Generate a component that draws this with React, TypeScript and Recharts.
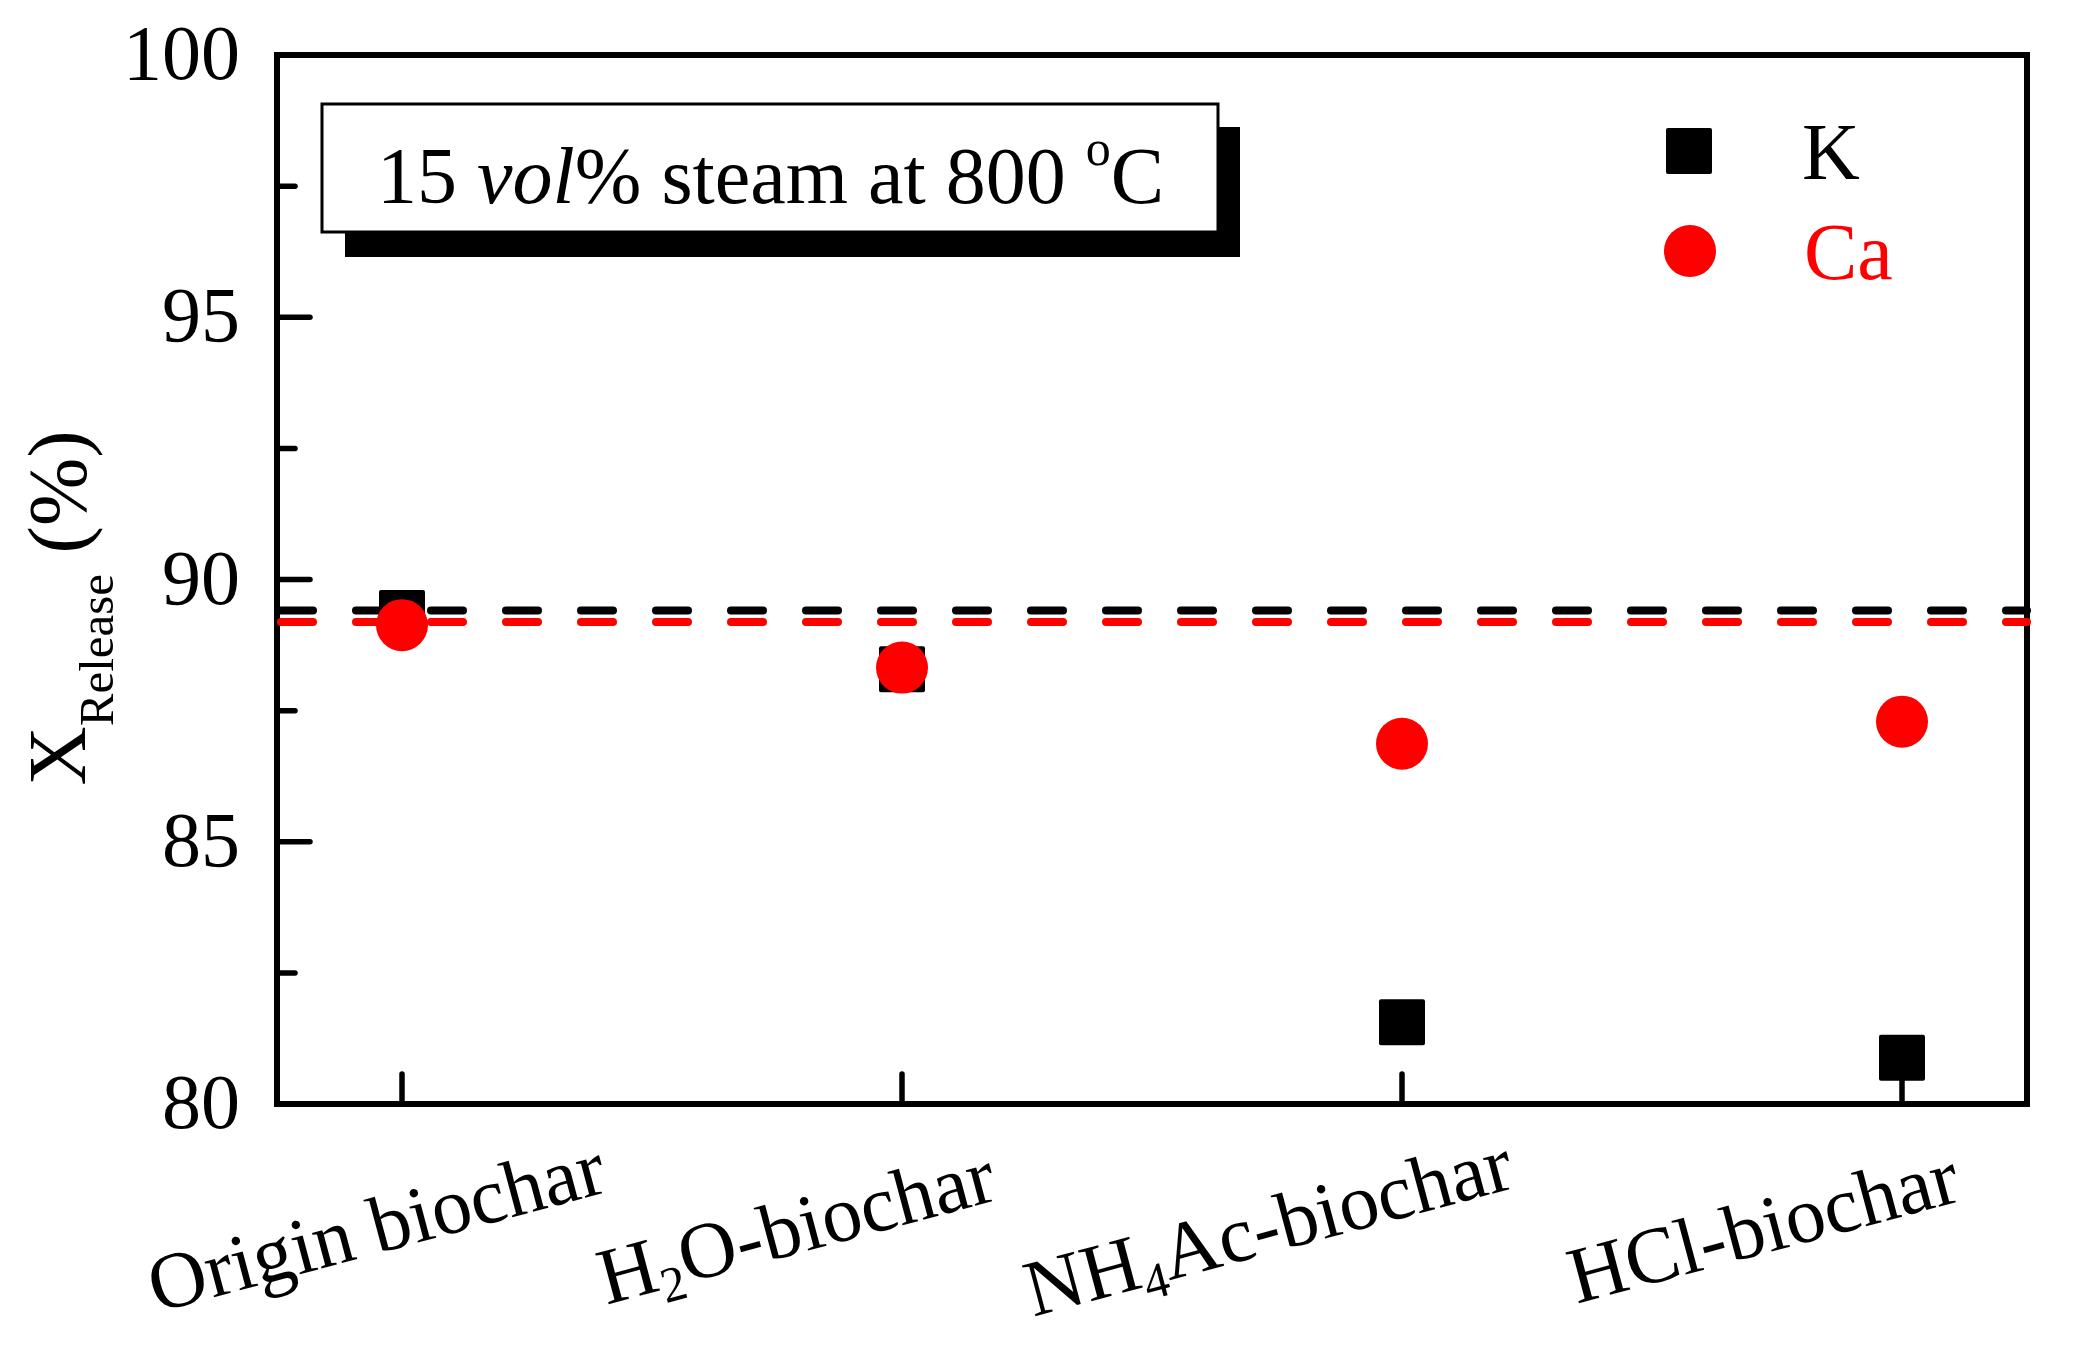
import React from 'react';
import {
  ComposedChart,
  Scatter,
  XAxis,
  YAxis,
  ReferenceLine,
  ReferenceArea,
} from 'recharts';

// values
const categories = ['Origin biochar', 'H2O-biochar', 'NH4Ac-biochar', 'HCl-biochar'];
const kRelease = [89.36, 88.29, 81.56, 80.88];
const caRelease = [89.13, 88.32, 86.87, 87.29];
const kBaseline = 89.41;
const caBaseline = 89.19;
const seriesNames = ['K', 'Ca'];
const seriesColors = ['#000000', '#ff0000'];
const yTicks = [80, 82.5, 85, 87.5, 90, 92.5, 95, 97.5, 100];
const xTicks = [1, 2, 3, 4];

const kData = categories.map((c, i) => ({ x: i + 1, y: kRelease[i], name: c }));
const caData = categories.map((c, i) => ({ x: i + 1, y: caRelease[i], name: c }));

const FONT = '"Liberation Serif", "Times New Roman", Times, serif';
const LEFT = 277;
const BOTTOM = 1104;
const labelShift = [-19, -99, -127, -132];

// split "NH4Ac" into pieces so the digits become subscripts
function formula(label: string, size: number, subSize: number, drop: number) {
  const parts = label.split(/(\d+)/).filter((p) => p !== '');
  let down = false;
  return parts.map((p, i) => {
    const isSub = /^\d+$/.test(p);
    let dy = 0;
    if (isSub && !down) { dy = drop; down = true; }
    else if (!isSub && down) { dy = -drop; down = false; }
    return (
      <tspan key={i} dy={dy} fontSize={isSub ? subSize : size}>{p}</tspan>
    );
  });
}

const YTick = (props: any) => {
  const { y, payload } = props;
  const major = payload.value % 5 === 0;
  return (
    <g>
      <line x1={LEFT} x2={LEFT + (major ? 33 : 18)} y1={y} y2={y} stroke="#000" strokeWidth={5.5} strokeLinecap="round" />
      {major && (
        <text x={240} y={y} dy={24} textAnchor="end" fontFamily={FONT} fontSize={78} fill="#000">
          {payload.value}
        </text>
      )}
    </g>
  );
};

const XTick = (props: any) => {
  const { x, payload } = props;
  const i = payload.value - 1;
  const cx = x + labelShift[i];
  const cy = 1252;
  return (
    <g>
      <line x1={x} x2={x} y1={BOTTOM} y2={BOTTOM - 30} stroke="#000" strokeWidth={5.5} strokeLinecap="round" />
      <text
        x={cx}
        y={cy}
        dy={18}
        textAnchor="middle"
        fontFamily={FONT}
        fontSize={80}
        fill="#000"
        transform={`rotate(-15, ${cx}, ${cy})`}
      >
        {formula(categories[i], 80, 50, 14)}
      </text>
    </g>
  );
};

const Square = (props: any) => (
  <rect x={props.cx - 23} y={props.cy - 23} width={46} height={46} rx={2} fill={seriesColors[0]} />
);
const Dot = (props: any) => <circle cx={props.cx} cy={props.cy} r={26} fill={seriesColors[1]} />;

export default function App() {
  return (
    <div style={{ position: 'absolute', left: 0, top: 0, background: '#fff' }}>
      <ComposedChart width={2073} height={1350} margin={{ top: 55, right: 46, bottom: 46, left: 77 }}>
        <XAxis
          type="number"
          dataKey="x"
          domain={[0.75, 4.25]}
          ticks={xTicks}
          interval={0}
          height={200}
          axisLine={false}
          tickLine={false}
          tick={<XTick />}
        />
        <YAxis
          type="number"
          dataKey="y"
          domain={[80, 100]}
          ticks={yTicks}
          interval={0}
          width={200}
          axisLine={false}
          tickLine={false}
          tick={<YTick />}
        />
        <ReferenceArea x1={0.75} x2={4.25} y1={80} y2={100} fill="none" stroke="#000" strokeWidth={6} ifOverflow="visible" />
        <ReferenceLine y={kBaseline} stroke={seriesColors[0]} strokeWidth={8} strokeDasharray="32 43" strokeDashoffset={-4} strokeLinecap="round" />
        <ReferenceLine y={caBaseline} stroke={seriesColors[1]} strokeWidth={8} strokeDasharray="32 43" strokeDashoffset={-4} strokeLinecap="round" />
        <Scatter name={seriesNames[0]} data={kData} shape={<Square />} isAnimationActive={false} />
        <Scatter name={seriesNames[1]} data={caData} shape={<Dot />} isAnimationActive={false} />

        {/* annotation box with drop shadow */}
        <g>
          <rect x={345} y={127} width={895} height={130} fill="#000" />
          <rect x={322} y={104} width={896} height={128} fill="#fff" stroke="#000" strokeWidth={3} />
          <text x={377} y={203} fontFamily={FONT} fontSize={80} fill="#000">
            <tspan>15 </tspan>
            <tspan fontStyle="italic">vol</tspan>
            <tspan>% steam at 800 </tspan>
            <tspan fontSize={50} dy={-38}>o</tspan>
            <tspan dy={38}>C</tspan>
          </text>
        </g>

        {/* legend */}
        <g>
          <rect x={1666} y={128} width={46} height={46} rx={2} fill={seriesColors[0]} />
          <text x={1802} y={179} fontFamily={FONT} fontSize={80} fill={seriesColors[0]}>{seriesNames[0]}</text>
          <circle cx={1690} cy={251} r={26} fill={seriesColors[1]} />
          <text x={1804} y={279} fontFamily={FONT} fontSize={80} fill={seriesColors[1]}>{seriesNames[1]}</text>
        </g>

        {/* y axis title */}
        <text x={85} y={608} textAnchor="middle" fontFamily={FONT} fontSize={82} fill="#000" transform="rotate(-90, 85, 608)">
          <tspan>X</tspan>
          <tspan fontSize={49} dy={28}>Release</tspan>
          <tspan dy={-28}> (%)</tspan>
        </text>
      </ComposedChart>
    </div>
  );
}
